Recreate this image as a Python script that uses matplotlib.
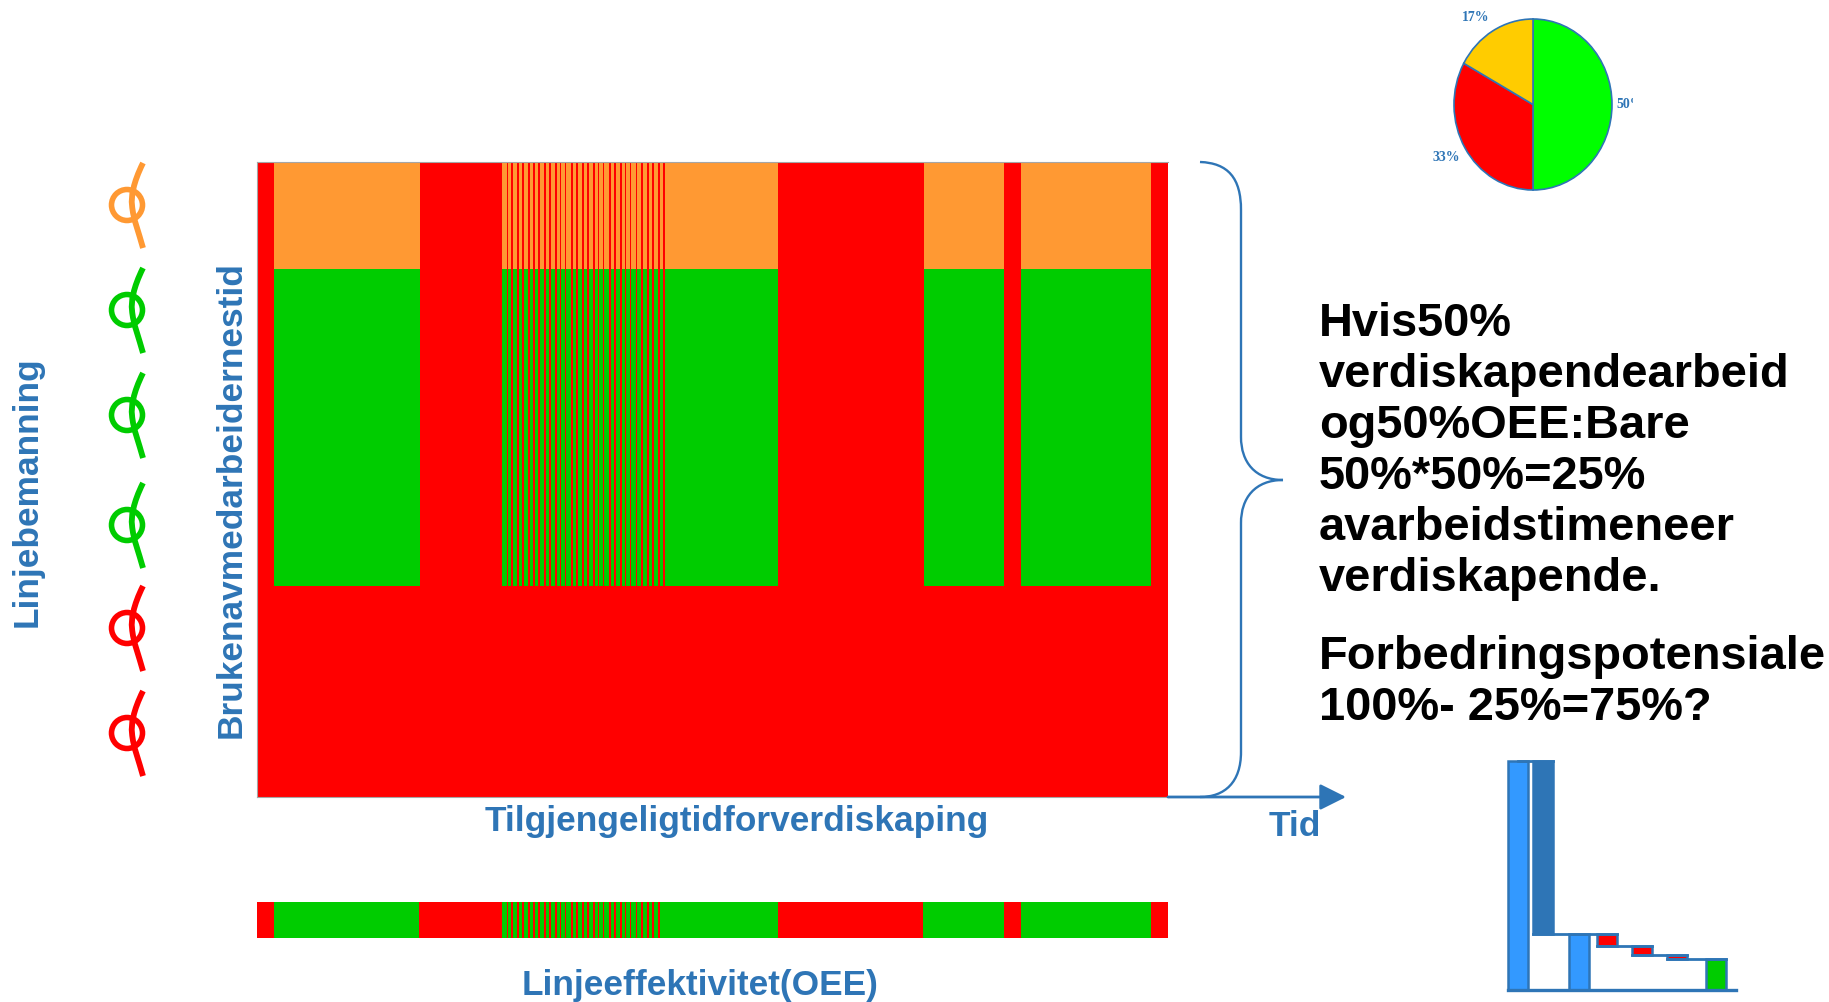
import matplotlib
matplotlib.use('Agg')
import matplotlib.pyplot as plt
from matplotlib.path import Path
from matplotlib.patches import PathPatch, Rectangle

plt.rcParams['font.family'] = ['Liberation Sans', 'DejaVu Sans']

# Timeline of the shift, running periods as (start, length)
run_periods = [(17, 146), (245, 276), (667, 80), (764, 130)]
oee_periods = [(17, 145), (245, 276), (666, 81), (764, 130)]
total_time = 911

# Short stops inside the second running period
short_stops = [249.7, 254.3, 260.3, 265.3, 271.3, 276.3, 281.3, 287.3, 292.3, 298.3,
               303.0, 308.0, 314.3, 319.3, 325.3, 330.3, 336.3, 341.0, 346.0, 352.3,
               357.3, 363.3, 368.0, 373.0, 379.0, 384.3, 390.3, 395.3, 401.3, 406.3]
stop_length = 1.4

# Worker time bands in percent: idle below, value adding between, other above
band_low = 33.3
band_high = 83.1

# Share of worker time
pie_labels = ['50%', '33%', '17%']
pie_values = [50, 33, 17]

# Bridge from all hours to value adding hours
bridge_bottoms = [0, 24.5, 0, 19.3, 15.4, 13.7, 0]
bridge_heights = [100, 75.5, 24.5, 5.2, 3.9, 1.7, 13.7]
bridge_colors = ['#3399FF', '#2E75B6', '#3399FF', '#FF0000', '#FF0000', '#FF0000', '#00CC00']
bridge_lefts = [1508, 1533, 1569, 1597, 1632, 1667, 1706]

loop_colors = ['#FF9933', '#00CC00', '#00CC00', '#00CC00', '#FF0000', '#FF0000']

text_lines = ['Hvis50%', 'verdiskapendearbeid', 'og50%OEE:Bare', '50%*50%=25%',
              'avarbeidstimeneer', 'verdiskapende.']
text_lines2 = ['Forbedringspotensiale', '100%- 25%=75%?']

BLUE = '#2E75B6'
RED = '#FF0000'
ORANGE = '#FF9933'
GREEN = '#00CC00'
W, H = 1829, 1002


def axes_px(fig, x0, y0, x1, y1):
    return fig.add_axes([x0 / W, 1 - y1 / H, (x1 - x0) / W, (y1 - y0) / H])


fig = plt.figure(figsize=(W / 100, H / 100), dpi=100)

# overlay in pixel coordinates for the labels and shapes
over = fig.add_axes([0, 0, 1, 1], zorder=5)
over.set_xlim(0, W)
over.set_ylim(H, 0)
over.axis('off')

# main chart
ax = axes_px(fig, 257, 162, 1168, 797)
ax.set_xlim(0, total_time)
ax.set_ylim(0, 100)
ax.set_facecolor(RED)
ax.set_xticks([])
ax.set_yticks([])
ax.spines['right'].set_visible(False)
for side in ['top', 'left', 'bottom']:
    ax.spines[side].set_color('#A6A6A6')
    ax.spines[side].set_linewidth(0.8)
ax.broken_barh(run_periods, (band_low, band_high - band_low), facecolor=GREEN, linewidth=0)
ax.broken_barh(run_periods, (band_high, 100 - band_high), facecolor=ORANGE, linewidth=0)
ax.broken_barh([(s, stop_length) for s in short_stops], (band_low, 100 - band_low),
               facecolor=RED, linewidth=0)

# OEE strip
ax2 = axes_px(fig, 257, 902, 1168, 938)
ax2.set_xlim(0, total_time)
ax2.set_ylim(0, 1)
ax2.set_facecolor(RED)
ax2.axis('off')
ax2.add_patch(Rectangle((0, 0), total_time, 1, facecolor=RED, linewidth=0))
ax2.broken_barh(oee_periods, (0, 1), facecolor=GREEN, linewidth=0)
ax2.broken_barh([(s, stop_length) for s in short_stops[:-1]], (0, 1), facecolor=RED, linewidth=0)

# pie, slightly stretched vertically
ax3 = axes_px(fig, 1454, 19, 1612, 190)
ax3.pie(pie_values, colors=['#00FF00', RED, '#FFCC00'], startangle=90, counterclock=False,
        radius=1.0, wedgeprops={'edgecolor': BLUE, 'linewidth': 1.2})
ax3.set_aspect('auto')
ax3.set_xlim(-1.0, 1.0)
ax3.set_ylim(-1.0, 1.0)
for p in ax3.patches:
    p.set_clip_on(False)

serif = ['Liberation Serif', 'DejaVu Serif']
t50 = over.text(1616, 104, pie_labels[0], color=BLUE, fontsize=10, fontweight='bold', family=serif,
                ha='left', va='center')
t50.set_clip_on(True)
t50.set_clip_path(Rectangle((1600, 90), 33, 30, transform=over.transData))
over.text(1476, 17, pie_labels[2], color=BLUE, fontsize=10, fontweight='bold', family=serif,
          ha='center', va='center')
over.text(1446, 157, pie_labels[1], color=BLUE, fontsize=10, fontweight='bold', family=serif,
          ha='center', va='center')

# bridge
ax4 = axes_px(fig, 1500, 761, 1740, 990)
ax4.set_xlim(1500, 1740)
ax4.set_ylim(0, 100)
ax4.axis('off')
ax4.bar(bridge_lefts, bridge_heights, width=20, bottom=bridge_bottoms, align='edge',
        color=bridge_colors, edgecolor=BLUE, linewidth=1.8, clip_on=False)
ax4.plot([1508, 1736], [0, 0], color=BLUE, lw=2.4, clip_on=False)
ax4.plot([1518, 1553], [100, 100], color=BLUE, lw=2.0, clip_on=False)
for i in range(1, 6):
    level = bridge_bottoms[i]
    if i == 1:
        ax4.plot([1533, 1617], [level, level], color=BLUE, lw=2.0, clip_on=False)
    else:
        nxt = bridge_lefts[i + 1] + 20
        ax4.plot([bridge_lefts[i], nxt], [level, level], color=BLUE, lw=2.0, clip_on=False)

# brace
verts = [(1200, 162), (1228, 163), (1241, 178), (1241, 210), (1241, 437), (1241, 462), (1255, 480), (1283, 480),
         (1255, 480), (1241, 498), (1241, 523), (1241, 752), (1241, 782), (1225, 797), (1200, 797)]
codes = [Path.MOVETO, Path.CURVE4, Path.CURVE4, Path.CURVE4, Path.LINETO, Path.CURVE4, Path.CURVE4, Path.CURVE4,
         Path.CURVE4, Path.CURVE4, Path.CURVE4, Path.LINETO, Path.CURVE4, Path.CURVE4, Path.CURVE4]
over.add_patch(PathPatch(Path(verts, codes), facecolor='none', edgecolor=BLUE, lw=1.7))

# time arrow
over.annotate('', xy=(1346, 797), xytext=(1168, 797),
              arrowprops=dict(arrowstyle='-|>,head_length=1.0,head_width=0.5', color=BLUE, lw=2,
                              shrinkA=0, shrinkB=0, mutation_scale=16))

# worker loops
for y, c in zip([205, 310, 415, 525, 628, 733], loop_colors):
    stem = Path([(143, y - 42), (133, y - 22), (131, y - 8), (132, y), (133, y + 14), (139, y + 28), (143, y + 43)],
                [Path.MOVETO, Path.CURVE4, Path.CURVE4, Path.CURVE4, Path.CURVE4, Path.CURVE4, Path.CURVE4])
    over.add_patch(PathPatch(stem, facecolor='none', edgecolor=c, lw=4.2, capstyle='butt'))
    over.add_patch(plt.Circle((127, y), 15.5, facecolor='none', edgecolor=c, lw=4.0))

# labels
label_kw = dict(color=BLUE, fontweight='bold', fontsize=25.4, ha='center', va='center')
over.text(737, 822, 'Tilgjengeligtidforverdiskaping', **label_kw)
over.text(700, 986, 'Linjeeffektivitet(OEE)', **label_kw)
over.text(1295, 827, 'Tid', **label_kw)
over.text(27, 492, 'Linjebemanning', rotation=90, **label_kw)
over.text(231, 500, 'Brukenavmedarbeidernestid', rotation=90, **label_kw)

# main message
for i, line in enumerate(text_lines):
    over.text(1319, 336 + i * 51, line, fontsize=33.8, fontweight='bold', color='black', ha='left', va='baseline')
for i, line in enumerate(text_lines2):
    over.text(1319, 669 + i * 51, line, fontsize=33.8, fontweight='bold', color='black', ha='left', va='baseline')

fig.savefig('out.png', dpi=100)
